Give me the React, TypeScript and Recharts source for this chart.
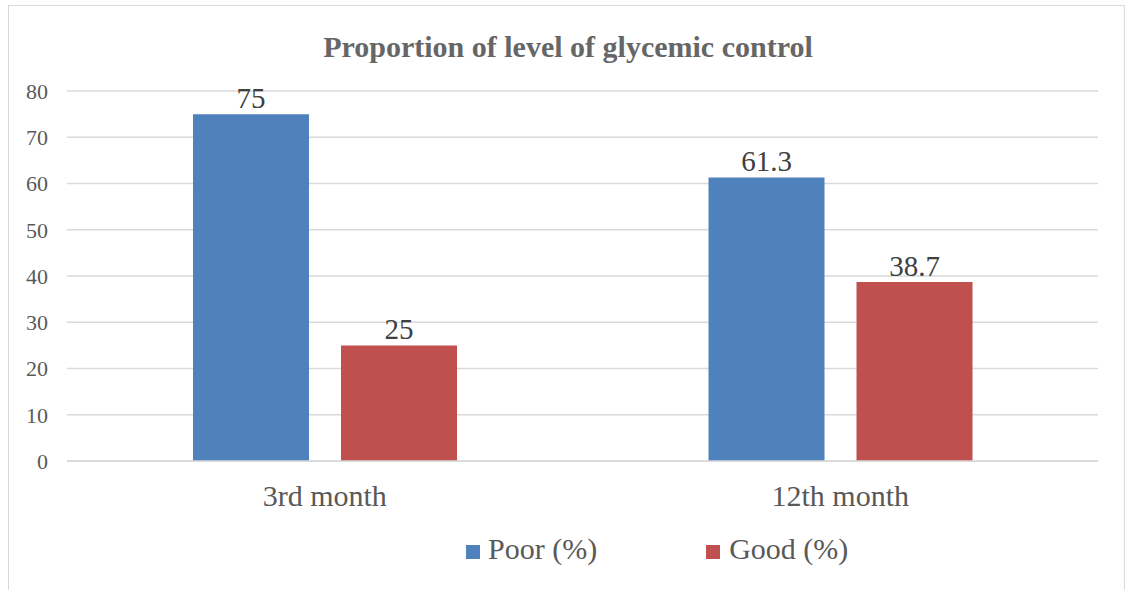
import React from 'react';
import { BarChart, Bar, XAxis, YAxis, CartesianGrid, Legend, LabelList } from 'recharts';

const categories = ['3rd month', '12th month'];
const poorValues = [75, 61.3];
const goodValues = [25, 38.7];
const yTicks = [0, 10, 20, 30, 40, 50, 60, 70, 80];
const seriesNames = ['Poor (%)', 'Good (%)'];
const seriesColors = ['#4F81BD', '#C0504D'];

const data = categories.map((c, i) => ({ name: c, poor: poorValues[i], good: goodValues[i] }));

const FONT = 'Liberation Serif, Times New Roman, Times, DejaVu Serif, serif';

const LegendContent = () => (
  <div style={{ display: 'flex', alignItems: 'center', fontFamily: FONT, fontSize: 30, lineHeight: '34px', color: '#595959', whiteSpace: 'nowrap' }}>
    {seriesNames.map((n, i) => (
      <div key={n} style={{ display: 'flex', alignItems: 'center', marginRight: i === 0 ? 109 : 0 }}>
        <div style={{ width: 14, height: 14, background: seriesColors[i], marginRight: i === 0 ? 8 : 9, position: 'relative', top: 3 }} />
        <span>{n}</span>
      </div>
    ))}
  </div>
);

export default function App() {
  return (
    <div style={{ position: 'absolute', left: 0, top: 0, width: 1130, height: 590, background: '#fff', overflow: 'hidden' }}>
      <div style={{ position: 'absolute', left: 8, top: 5, width: 1117, height: 600, border: '1.5px solid #d9d9d9', boxSizing: 'border-box' }} />
      <div style={{ position: 'absolute', left: 0, top: 30, width: 1130, textAlign: 'center', paddingLeft: 3, fontFamily: FONT, fontWeight: 'bold', fontSize: 30, color: '#666666', whiteSpace: 'nowrap' }}>
        Proportion of level of glycemic control
      </div>
      <div style={{ position: 'absolute', left: 0, top: 0 }}>
        <BarChart width={1130} height={590} data={data} margin={{ top: 91, right: 32, left: 0, bottom: 69 }} barGap={32} barSize={116}>
          <CartesianGrid vertical={false} stroke="#d9d9d9" strokeWidth={1.5} />
          <XAxis dataKey="name" axisLine={{ stroke: '#d9d9d9', strokeWidth: 1.5 }} tickLine={false} tickSize={6} height={60} tickMargin={18}
            tick={{ fontFamily: FONT, fontSize: 30, fill: '#595959' }} />
          <YAxis domain={[0, 80]} ticks={yTicks} width={67} axisLine={false} tickLine={false} tickSize={0} tickMargin={19}
            tick={{ fontFamily: FONT, fontSize: 22, fill: '#595959' }} />
          <Legend layout="horizontal" verticalAlign="middle" align="center" content={<LegendContent />}
            wrapperStyle={{ position: 'absolute', left: 466, top: 532, width: 'auto' }} />
          <Bar dataKey="poor" name={seriesNames[0]} fill={seriesColors[0]} isAnimationActive={false}>
            <LabelList dataKey="poor" position="top" offset={6} style={{ fontFamily: FONT, fontSize: 29, fill: '#404040' }} />
          </Bar>
          <Bar dataKey="good" name={seriesNames[1]} fill={seriesColors[1]} isAnimationActive={false}>
            <LabelList dataKey="good" position="top" offset={6} style={{ fontFamily: FONT, fontSize: 29, fill: '#404040' }} />
          </Bar>
        </BarChart>
      </div>
    </div>
  );
}
